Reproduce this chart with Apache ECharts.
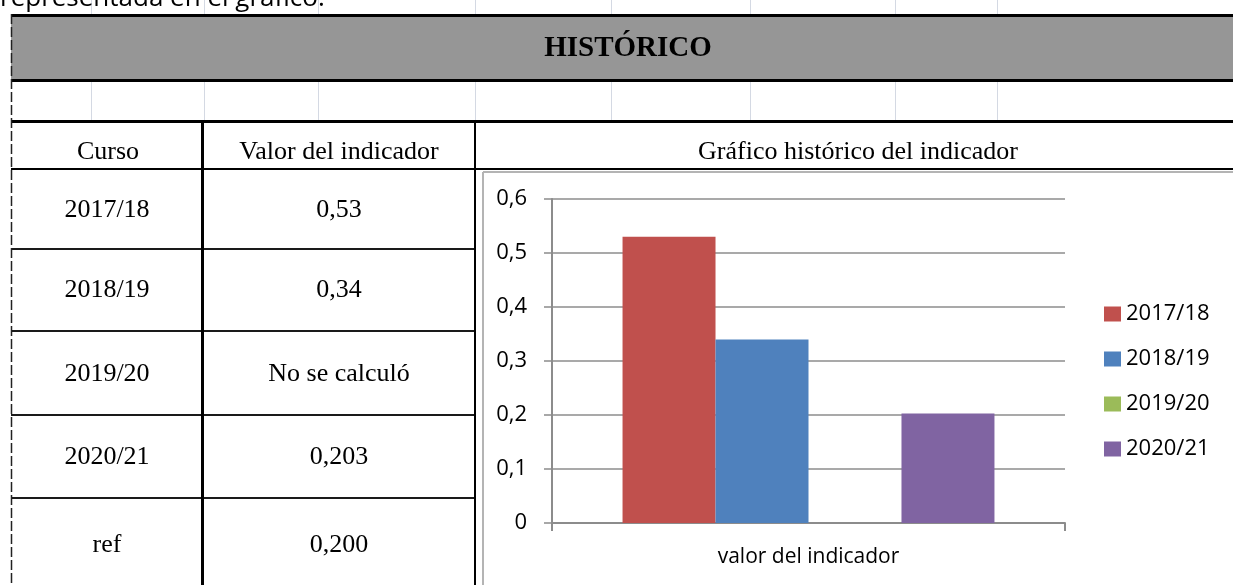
<!DOCTYPE html>
<html>
<head>
<meta charset="utf-8">
<script src="https://cdn.jsdelivr.net/npm/echarts@6/dist/echarts.min.js"></script>
<style>
html,body{margin:0;padding:0;background:#fff;}
#c{width:1233px;height:585px;}
</style>
</head>
<body>
<div id="c"></div>
<script>
// ---- data ----
const textoSuperior = 'representada en el gráfico.';
const titulo = 'HISTÓRICO';
const encabezados = ['Curso', 'Valor del indicador', 'Gráfico histórico del indicador'];
const filasCurso = ['2017/18', '2018/19', '2019/20', '2020/21', 'ref'];
const filasValor = ['0,53', '0,34', 'No se calculó', '0,203', '0,200'];
const categorias = ['valor del indicador'];
const nombresSeries = ['2017/18', '2018/19', '2019/20', '2020/21'];
const valoresSeries = [0.53, 0.34, null, 0.203];
const coloresSeries = ['#C0504D', '#4F81BD', '#9BBB59', '#8064A2'];

// ---- layout (positions only) ----
const serif = '"Liberation Serif", "Times New Roman", serif';
const sans = '"Open Sans", "Noto Sans", sans-serif';
const rowCenters = [210, 290, 374, 457, 545];
const rowLines = [249, 331, 415, 498];
const gridX = [91, 204, 318, 475, 611, 750, 895, 997];

const g = [];
// faint spreadsheet gridlines
gridX.forEach(x => {
  g.push({type:'line', shape:{x1:x+0.5,y1:0,x2:x+0.5,y2:14}, style:{stroke:'#d4d9e3', lineWidth:1}});
  g.push({type:'line', shape:{x1:x+0.5,y1:82,x2:x+0.5,y2:120}, style:{stroke:'#d4d9e3', lineWidth:1}});
});
// top cut text
g.push({type:'text', style:{text:textoSuperior, x:0, y:-1, font:'26px ' + sans, fill:'#000', textAlign:'left', align:'left', textVerticalAlign:'middle', verticalAlign:'middle'}});
// header bar
g.push({type:'rect', shape:{x:11,y:15,width:1240,height:65}, style:{fill:'#969696', stroke:null}});
g.push({type:'line', shape:{x1:11,y1:15.5,x2:1240,y2:15.5}, style:{stroke:'#000', lineWidth:3}});
g.push({type:'line', shape:{x1:11,y1:80.5,x2:1240,y2:80.5}, style:{stroke:'#000', lineWidth:3}});
g.push({type:'text', style:{text:titulo, x:628, y:49, font:'bold 29px ' + serif, fill:'#000', textAlign:'center', align:'center', textVerticalAlign:'middle', verticalAlign:'middle'}});
// table lines
g.push({type:'line', shape:{x1:11,y1:121.5,x2:1240,y2:121.5}, style:{stroke:'#000', lineWidth:3}});
g.push({type:'line', shape:{x1:11,y1:169,x2:1240,y2:169}, style:{stroke:'#000', lineWidth:2}});
rowLines.forEach(y => {
  g.push({type:'line', shape:{x1:11,y1:y,x2:475,y2:y}, style:{stroke:'#1a1a1a', lineWidth:2}});
});
g.push({type:'line', shape:{x1:202.5,y1:121,x2:202.5,y2:590}, style:{stroke:'#000', lineWidth:3}});
g.push({type:'line', shape:{x1:475,y1:121,x2:475,y2:590}, style:{stroke:'#000', lineWidth:2}});
g.push({type:'line', shape:{x1:11.5,y1:14,x2:11.5,y2:590}, style:{stroke:'#222', lineWidth:1.5, lineDash:[10,3]}});
// chart object border
g.push({type:'line', shape:{x1:483,y1:172,x2:1240,y2:172}, style:{stroke:'#b4b4b4', lineWidth:2}});
g.push({type:'line', shape:{x1:483,y1:172,x2:483,y2:590}, style:{stroke:'#b4b4b4', lineWidth:2}});
// header texts
const headerX = [108, 339, 858];
encabezados.forEach((t, i) => {
  g.push({type:'text', style:{text:t, x:headerX[i], y:152, font:'26px ' + serif, fill:'#000', textAlign:'center', align:'center', textVerticalAlign:'middle', verticalAlign:'middle'}});
});
filasCurso.forEach((t, i) => {
  g.push({type:'text', style:{text:t, x:107, y:rowCenters[i], font:'26px ' + serif, fill:'#000', textAlign:'center', align:'center', textVerticalAlign:'middle', verticalAlign:'middle'}});
  g.push({type:'text', style:{text:filasValor[i], x:339, y:rowCenters[i], font:'26px ' + serif, fill:'#000', textAlign:'center', align:'center', textVerticalAlign:'middle', verticalAlign:'middle'}});
});

const chart = echarts.init(document.getElementById('c'), null, {renderer:'canvas'});
const axisGray = '#8c8c8c';
chart.setOption({
  animation: false,
  backgroundColor: '#fff',
  graphic: {elements: g},
  grid: {left:552, right:168, top:199, bottom:62, containLabel:false},
  legend: {
    orient:'vertical', left:1104, top:303, padding:0,
    itemWidth:17, itemHeight:15, itemGap:23, icon:'rect',
    textStyle:{fontFamily:sans, fontSize:22, color:'#000', lineHeight:22},
    data: nombresSeries
  },
  xAxis: {
    type:'category', data:categorias,
    axisLine:{lineStyle:{color:axisGray, width:2}},
    axisTick:{show:true, length:8, lineStyle:{color:axisGray, width:2}},
    axisLabel:{fontFamily:sans, fontSize:21, color:'#000', margin:24},
    splitLine:{show:false}
  },
  yAxis: {
    type:'value', min:0, max:0.6, interval:0.1,
    axisLine:{show:true, lineStyle:{color:axisGray, width:2}},
    axisTick:{show:true, length:8, lineStyle:{color:axisGray, width:1.5}},
    axisLabel:{fontFamily:sans, fontSize:22, color:'#000', margin:25,
      formatter: v => v === 0 ? '0' : v.toFixed(1).replace('.', ',')},
    splitLine:{show:true, lineStyle:{color:axisGray, width:1.5}}
  },
  series: nombresSeries.map((n, i) => ({
    name:n, type:'bar', data:[valoresSeries[i]],
    itemStyle:{color:coloresSeries[i]},
    barGap:'0%', barCategoryGap:'27.5%'
  }))
});
</script>
</body>
</html>
